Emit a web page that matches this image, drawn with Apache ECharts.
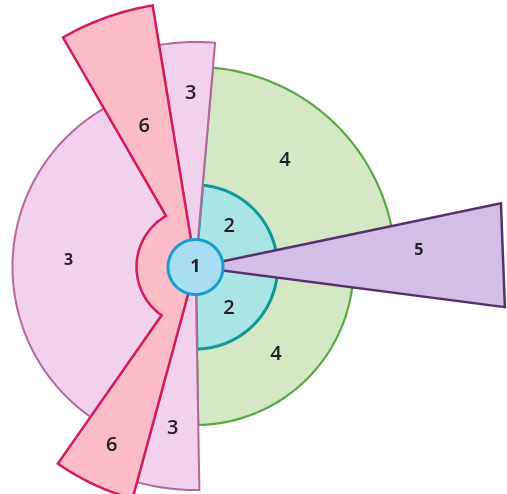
<!DOCTYPE html>
<html>
<head>
<meta charset="utf-8">
<title>Sector diagram</title>
<script src="https://cdn.jsdelivr.net/npm/echarts@6/dist/echarts.min.js"></script>
<style>
  html, body { margin: 0; padding: 0; background: #fff; }
  #main { width: 507px; height: 494px; }
</style>
</head>
<body>
<div id="main"></div>
<script>
// regions in drawing order (later ones sit on top)
var regionLabels = ['3', '4', '4', '2', '2', '3', '3', '6', '5', '1'];
// angle breaks in degrees, counter-clockwise from east
var regionAngles = [
  [120, 235], [0, 85], [271, 360], [0, 85], [271, 360],
  [85, 99.3], [254.8, 271], [99.3, 120, 235, 254.8], [-7.4, 11.8], [0, 360]
];
var regionInner = [58, 82, 82, 27, 27, 27, 27, 27, 27, 0];
// one outer radius for each piece between two breaks
var regionOuter = [[183], [200], [158], [82], [82], [225], [223], [265, 59, 240], [312], [27.5]];

// where the numbers sit: [angle, radius]
var labelSpots = [
  [[177, 127]], [[50, 139]], [[312.5, 119]], [[50.5, 53]], [[309.3, 53]],
  [[91.6, 174]], [[262, 163]], [[110, 150], [244.8, 197]], [[4.2, 224]], [[0, 0]]
];

var fills   = ['#f2d1ec', '#d5e8c6', '#d5e8c6', '#a8e5e4', '#a8e5e4', '#f2d1ec', '#f2d1ec', '#fbbcc7', '#d3bee6', '#a8ddf3'];
var strokes = ['#b5669f', '#5aa845', '#5aa845', '#0f999b', '#0f999b', '#b5669f', '#b5669f', '#d31a5b', '#58306c', '#1b9dd1'];
var widths  = [2, 2.2, 2.2, 3, 3, 2, 2, 2.5, 2.5, 3];
// the purple wedge ends in a flat edge, the others in arcs
var flatEnd = [false, false, false, false, false, false, false, false, true, false];
var big = '600 20px "Open Sans"', small = 'bold 16px "Open Sans"';
var fonts = [small, big, big, big, big, big, big, big, small, 'bold 18px "Open Sans"'];

var myChart = echarts.init(document.getElementById('main'));

function renderRegion(params, api) {
  var i = params.dataIndex;
  var angles = regionAngles[i], outer = regionOuter[i], inner = regionInner[i];
  var pts = [];
  for (var k = 0; k < outer.length; k++) {
    var a0 = angles[k], a1 = angles[k + 1];
    var n = flatEnd[i] ? 1 : Math.max(2, Math.ceil(Math.abs(a1 - a0)));
    for (var s = 0; s <= n; s++) {
      pts.push(api.coord([outer[k], a0 + (a1 - a0) * s / n]));
    }
  }
  var first = angles[0], last = angles[angles.length - 1];
  if (last - first < 360) {
    if (inner > 0) {
      var m = Math.max(2, Math.ceil(last - first));
      for (var t = 0; t <= m; t++) {
        pts.push(api.coord([inner, last - (last - first) * t / m]));
      }
    } else {
      pts.push(api.coord([0, 0]));
    }
  }
  var children = [{
    type: 'polygon',
    shape: { points: pts },
    style: { fill: fills[i], stroke: strokes[i], lineWidth: widths[i], lineJoin: 'miter' }
  }];
  labelSpots[i].forEach(function (spot) {
    var p = api.coord([spot[1], spot[0]]);
    children.push({
      type: 'text',
      z2: 100,
      style: {
        x: p[0], y: p[1],
        text: regionLabels[i],
        fill: '#222',
        font: fonts[i],
        align: 'center',
        verticalAlign: 'middle'
      }
    });
  });
  return { type: 'group', children: children };
}

var option = {
  animation: false,
  polar: { center: [195.5, 267], radius: 320 },
  angleAxis: { type: 'value', min: 0, max: 360, startAngle: 0, clockwise: false, show: false },
  radiusAxis: { type: 'value', min: 0, max: 320, show: false },
  series: [{
    type: 'custom',
    coordinateSystem: 'polar',
    clip: false,
    renderItem: renderRegion,
    data: regionLabels.map(function (lab) { return { name: lab, value: [0, 0] }; })
  }]
};

myChart.setOption(option);
</script>
</body>
</html>
